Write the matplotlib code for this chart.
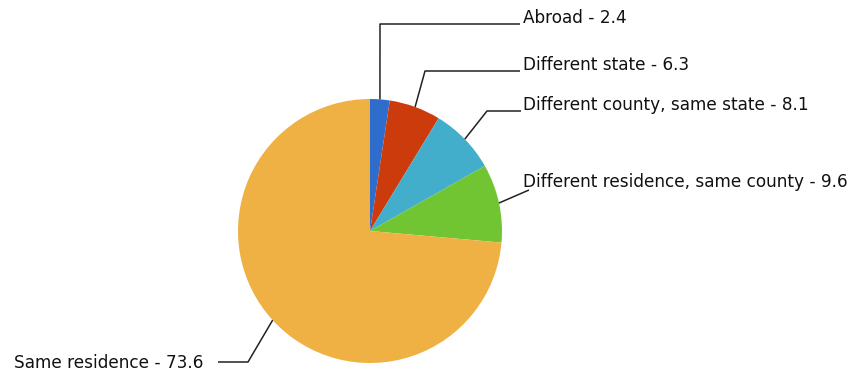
import numpy as np
import matplotlib
matplotlib.use("Agg")
import matplotlib.pyplot as plt

categories = ["Abroad", "Different state", "Different county, same state",
              "Different residence, same county", "Same residence"]
values = [2.4, 6.3, 8.1, 9.6, 73.6]
colors = ["#2f6dcc", "#cc3b0c", "#43aecb", "#72c532", "#efb143"]

W, H = 853, 373
fig = plt.figure(figsize=(W / 100, H / 100), dpi=100)
ax = fig.add_axes([0, 0, 1, 1])

cx, cy_px, r = 370, 231, 132
cy = H - cy_px
wedges, _ = ax.pie(values, colors=colors, startangle=90, counterclock=False,
                   center=(cx, cy), radius=r, frame=True,
                   wedgeprops=dict(linewidth=0))
ax.set_xlim(0, W)
ax.set_ylim(0, H)
ax.set_aspect("equal")
ax.axis("off")

# layout: elbow points (pixel coords, y down), horizontal end x, text anchor
elbows = [(380, 24), (425, 71), (487, 111), (529, 190), (248, 362)]
ends = [520, 520, 521, 529, 218]
text_pos = [(523, 23), (523, 70), (523, 110), (523, 187), (203, 368)]
aligns = ["left", "left", "left", "left", "right"]

for w, cat, val, (ex, ey), endx, (tx, ty), ha in zip(
        wedges, categories, values, elbows, ends, text_pos, aligns):
    ang = np.deg2rad((w.theta1 + w.theta2) / 2)
    sx = cx + r * np.cos(ang)
    sy = cy + r * np.sin(ang)
    ax.plot([sx, ex, endx], [sy, H - ey, H - ey], color="#222222", lw=1.1,
            solid_capstyle="butt")
    ax.text(tx, H - ty, f"{cat} - {val}", ha=ha, va="baseline",
            fontsize=12.2, color="#111111", family="DejaVu Sans")

fig.savefig("out.png", dpi=100)
